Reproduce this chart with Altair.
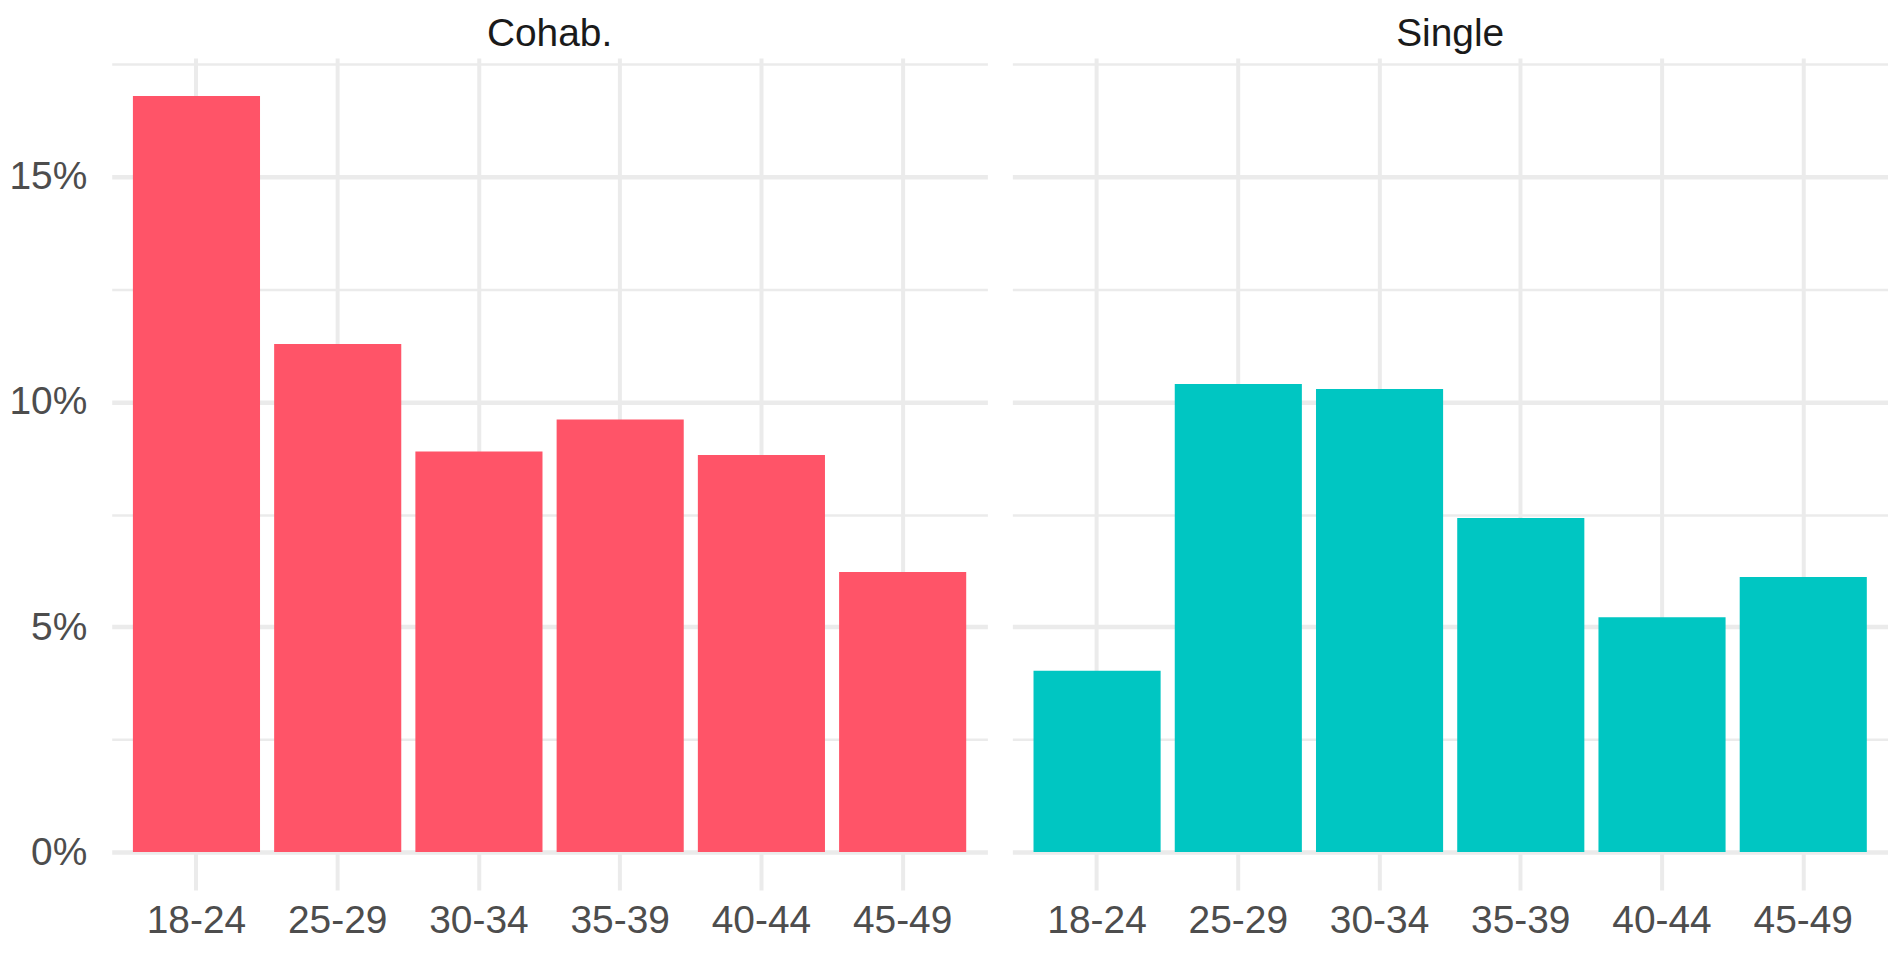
import altair as alt
import pandas as pd

age_groups = ["18-24", "25-29", "30-34", "35-39", "40-44", "45-49"]
cohab_pct = [16.8, 11.29, 8.90, 9.61, 8.82, 6.22]
single_pct = [4.03, 10.40, 10.29, 7.42, 5.22, 6.11]
statuses = ["Cohab.", "Single"]
colors = ["#FF5468", "#00C6C2"]
y_grid = [0, 2.5, 5, 7.5, 10, 12.5, 15, 17.5]

rows = []
for s, vals in zip(statuses, [cohab_pct, single_pct]):
    for a, v in zip(age_groups, vals):
        rows.append({"status": s, "age": a, "pct": v})
df = pd.DataFrame(rows)

bars = alt.Chart(df).mark_bar().encode(
    x=alt.X(
        "age:N", sort=age_groups, title=None,
        scale=alt.Scale(paddingInner=0.1, paddingOuter=0.15),
        axis=alt.Axis(grid=True, bandPosition=0.5, ticks=False, tickSize=0, domain=False,
                      labelAngle=0, labelFontSize=39, labelColor="#4D4D4D",
                      labelPadding=12, gridColor="#EBEBEB", gridWidth=4),
    ),
    y=alt.Y(
        "pct:Q", title=None,
        scale=alt.Scale(domain=[-0.84, 17.64], zero=False, nice=False),
        axis=alt.Axis(values=y_grid, ticks=False, tickSize=0, domain=False,
                      labelExpr="datum.value % 5 === 0 ? datum.value + '%' : ''",
                      labelFontSize=39, labelColor="#4D4D4D", labelPadding=25,
                      gridColor="#EBEBEB",
                      gridWidth={"condition": {"test": "datum.value % 5 === 0", "value": 4.5},
                                 "value": 2.5}),
    ),
    y2=alt.datum(0),
    color=alt.Color("status:N", scale=alt.Scale(domain=statuses, range=colors), legend=None),
).properties(width=878, height=834)

chart = bars.facet(
    column=alt.Column("status:N", title=None, sort=statuses,
                      header=alt.Header(labelFontSize=39, labelColor="#1A1A1A",
                                        labelPadding=4, labelFont="Liberation Sans")),
    spacing=25,
).configure(
    padding={"top": 6, "left": 0, "right": 0, "bottom": 0}, font="Liberation Sans"
).configure_view(stroke=None)

chart.save("out.html", embed_options={"renderer": "svg", "actions": False})
